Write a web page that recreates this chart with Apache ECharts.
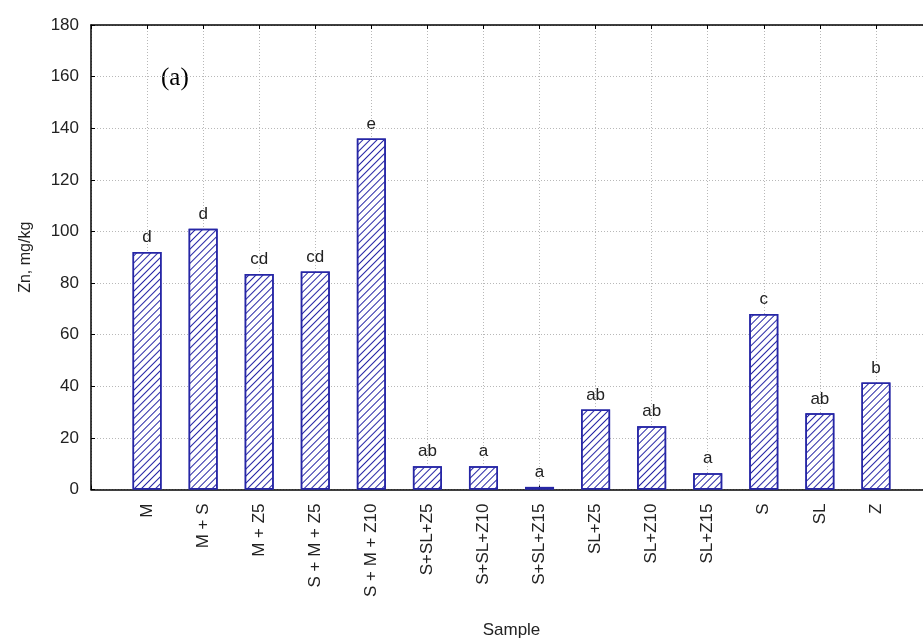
<!DOCTYPE html>
<html>
<head>
<meta charset="utf-8">
<script src="https://cdn.jsdelivr.net/npm/echarts@6/dist/echarts.min.js"></script>
<style>
  html, body { margin: 0; padding: 0; background: #fff; }
  #chart { width: 923px; height: 641px; }
</style>
</head>
<body>
<div id="chart"></div>
<script>
const categories = ['M', 'M + S', 'M + Z5', 'S + M + Z5', 'S + M + Z10', 'S+SL+Z5', 'S+SL+Z10',
  'S+SL+Z15', 'SL+Z5', 'SL+Z10', 'SL+Z15', 'S', 'SL', 'Z'];
const znValues = [92, 101, 83.5, 84.5, 136, 9, 9, 1, 31, 24.5, 6.3, 68, 29.5, 41.5];
const groupLetters = ['d', 'd', 'cd', 'cd', 'e', 'ab', 'a', 'a', 'ab', 'ab', 'a', 'c', 'ab', 'b'];
const yTicks = [0, 20, 40, 60, 80, 100, 120, 140, 160, 180];

const navy = '#2626a6';
const font = 'Liberation Sans, Arial, sans-serif';

const chart = echarts.init(document.getElementById('chart'));

// x runs 0..15 so the categories sit on 1..14, like the original plot
const xCommon = {
  type: 'value',
  min: 0,
  max: categories.length + 1,
  interval: 1,
  axisLine: { lineStyle: { color: '#000', width: 1.5 } },
  axisTick: { inside: true, length: 4, lineStyle: { color: '#000' } }
};

const option = {
  animation: false,
  grid: { left: 91, top: 25, width: 841, height: 464.5, outerBoundsMode: 'none', containLabel: false },
  xAxis: [
    Object.assign({}, xCommon, {
      position: 'bottom',
      name: 'Sample',
      nameLocation: 'middle',
      nameGap: 132,
      nameTextStyle: { fontFamily: font, fontSize: 17, color: '#222' },
      axisLabel: {
        rotate: 90,
        margin: 14,
        fontFamily: font,
        fontSize: 17,
        color: '#222',
        formatter: v => categories[v - 1] || ''
      },
      splitLine: { show: true, lineStyle: { color: '#b8b8b8', type: [1, 2] } }
    }),
    Object.assign({}, xCommon, {
      position: 'top',
      axisLabel: { show: false },
      splitLine: { show: false }
    })
  ],
  yAxis: {
    type: 'value',
    min: yTicks[0],
    max: yTicks[yTicks.length - 1],
    interval: 20,
    name: 'Zn, mg/kg',
    nameLocation: 'middle',
    nameGap: 57,
    nameTextStyle: { fontFamily: font, fontSize: 16, color: '#222' },
    axisLine: { show: true, lineStyle: { color: '#000', width: 1.5 } },
    axisTick: { show: true, inside: true, length: 4, lineStyle: { color: '#000' } },
    axisLabel: { fontFamily: font, fontSize: 17, color: '#222', margin: 12 },
    splitLine: { show: true, lineStyle: { color: '#b8b8b8', type: [1, 2] } }
  },
  graphic: [
    {
      type: 'text',
      left: 161,
      top: 66,
      style: { text: '(a)', fontFamily: 'Liberation Serif, Times New Roman, serif', fontSize: 25, fill: '#000' }
    }
  ],
  series: [
    {
      type: 'bar',
      barWidth: 29,
      data: znValues.map((v, i) => [i + 1, v]),
      itemStyle: {
        color: '#fff',
        borderColor: navy,
        borderWidth: 1.5,
        decal: {
          symbol: 'rect',
          symbolSize: 1,
          dashArrayX: [1, 0],
          dashArrayY: [1, 3.6],
          rotation: -Math.PI / 4,
          color: navy
        }
      },
      label: {
        show: true,
        position: 'top',
        distance: 6,
        fontFamily: font,
        fontSize: 17,
        color: '#222',
        formatter: p => groupLetters[p.dataIndex]
      }
    }
  ]
};

chart.setOption(option);
</script>
</body>
</html>
